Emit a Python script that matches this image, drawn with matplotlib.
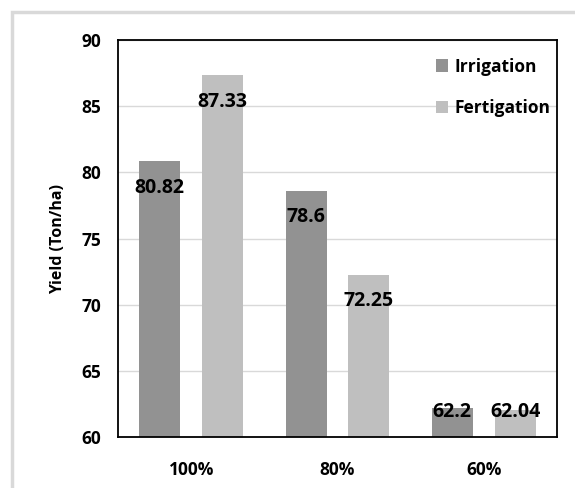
import matplotlib
matplotlib.use("Agg")
import matplotlib.pyplot as plt
import matplotlib.patches as mpatches
import numpy as np

categories = ["100%", "80%", "60%"]
irrigation = [80.82, 78.6, 62.2]
fertigation = [87.33, 72.25, 62.04]
series_names = ["Irrigation", "Fertigation"]
yticks = [60, 65, 70, 75, 80, 85, 90]

colors = ["#929292", "#bfbfbf"]
plt.rcParams["font.family"] = ["Open Sans", "DejaVu Sans"]

fig = plt.figure(figsize=(5.75, 4.88), dpi=100)
W, H = 575, 488
ax = fig.add_axes([118 / W, 1 - 437 / H, (557 - 118) / W, (437 - 40) / H])

# outer light frame (runs off the right and bottom edges)
fig.patches.append(mpatches.Rectangle((12 / W, -0.05), 1.1, 1.05 - 12 / H, transform=fig.transFigure,
                                      fill=False, edgecolor="#d9d9d9", lw=2.5))

x = np.arange(len(categories))
width = 0.28
offset = 0.215
for vals, name, color, dx in zip([irrigation, fertigation], series_names, colors, [-offset, offset]):
    bars = ax.bar(x + dx, vals, width, color=color, label=name, zorder=2)
    for bar, val in zip(bars, vals):
        y = max(val - 2.0, 61.9)
        ax.text(bar.get_x() + bar.get_width() / 2, y, f"{val:g}", ha="center", va="center",
                fontsize=14, fontweight="bold", color="black", zorder=3)

ax.set_ylim(60, 90)
ax.set_xlim(-0.5, 2.5)
ax.set_yticks(yticks)
ax.set_xticks(x)
ax.set_xticklabels(categories, fontsize=12.5, fontweight="bold")
for lab in ax.get_yticklabels():
    lab.set_fontsize(12.5)
    lab.set_fontweight("bold")
ax.tick_params(axis="y", length=0, pad=12)
ax.tick_params(axis="x", length=0, pad=17)
ax.yaxis.grid(True, color="#d9d9d9", lw=1, zorder=0)
ax.set_axisbelow(True)
for spine in ax.spines.values():
    spine.set_edgecolor("black")
    spine.set_linewidth(1.3)

ax.set_ylabel("Yield (Ton/ha)", fontsize=11.5, fontweight="bold", labelpad=11)

leg = ax.legend(loc="upper right", bbox_to_anchor=(1.02, 0.995), frameon=False,
                handlelength=0.7, handleheight=0.7, handletextpad=0.35,
                labelspacing=1.35, prop={"weight": "bold", "size": 12.5})

plt.savefig("out.png", dpi=100)
